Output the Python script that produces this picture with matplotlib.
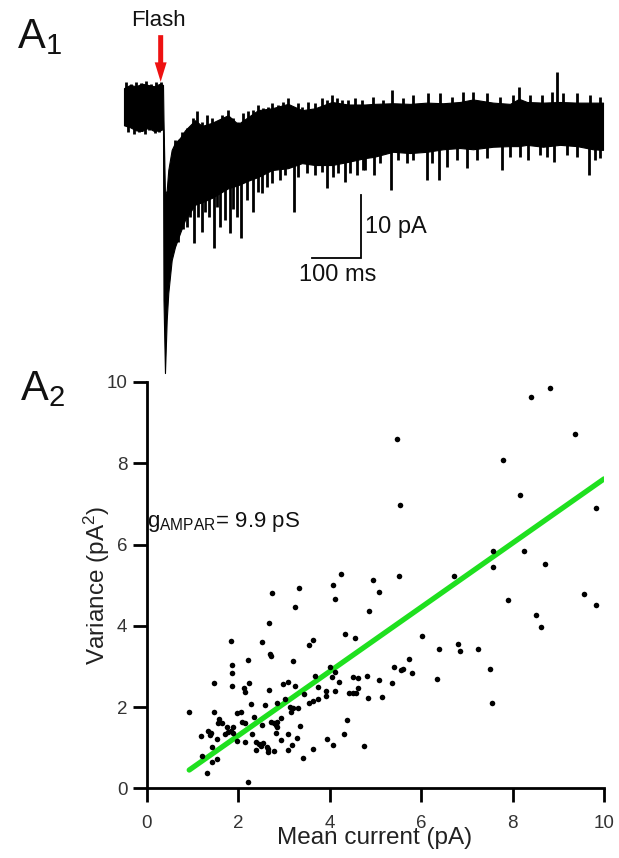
import numpy as np
import matplotlib
matplotlib.use("Agg")
from matplotlib import pyplot as plt

plt.rcParams['font.family'] = ['Liberation Sans', 'DejaVu Sans']
plt.rcParams['mathtext.fontset'] = 'custom'
plt.rcParams['mathtext.rm'] = 'Liberation Sans'
plt.rcParams['mathtext.it'] = 'Liberation Sans'
plt.rcParams['mathtext.bf'] = 'Liberation Sans'
plt.rcParams['mathtext.default'] = 'regular'

# ---- A1: whole-cell trace (time in ms, current in pA), read as an envelope
trace_t = [0, 12.2, 24.3, 36.5, 48.7, 60.8, 73.0, 79.1,
           80.1, 83.1, 86.6, 89.8, 96.7, 103.4, 113.6, 123.7, 144.0, 158.2,
           178.5, 210.9, 231.2, 251.5, 271.8, 300.1, 332.6, 361.0, 387.3,
           421.8, 454.3, 488.7, 507.0, 545.5, 580.0, 614.5, 646.9, 681.4,
           707.8, 748.3, 782.8, 801.1, 817.3, 849.7, 884.2, 918.7, 951.1, 971.4]
trace_hi = [3.0, 3.5, 3.3, 3.7, 3.5, 3.3, 3.7, 3.5,
            -2.1, -14.0, -13.2, -10.0, -6.8, -5.7, -4.9, -3.7, -2.1, -3.0,
            -2.5, -1.3, -2.7, -1.6, -0.5, -0.2, 0.5, -0.5, -0.2,
            0.8, 0.4, 0.4, 0.5, 0.6, 0.5, 0.7, 0.6, 0.8,
            1.2, 0.7, 0.5, 1.3, 0.8, 0.7, 0.8, 0.7, 0.7, 0.7]
trace_lo = [-2.9, -3.2, -3.7, -3.8, -3.3, -3.8, -3.7, -3.5,
            -30.6, -42.2, -33.8, -29.5, -24.3, -22.2, -20.0, -17.9, -15.5, -15.1,
            -14.4, -12.9, -12.4, -11.7, -11.1, -10.0, -9.7, -8.9, -9.2,
            -9.2, -8.7, -8.1, -7.9, -7.1, -7.3, -7.1, -6.7, -6.5,
            -6.7, -6.3, -6.2, -6.2, -6.0, -6.3, -6.0, -6.2, -6.7, -6.8]

# downward events (time, peak current)
spike_t = [102.1, 110.2, 120.3, 127.1, 133.8, 142.6, 150.7, 158.9, 164.3, 173.0,
           182.5, 187.9, 194.7, 204.8, 215.0, 221.7, 228.5, 237.3, 248.8, 262.3,
           272.4, 279.2, 289.4, 299.5, 316.4, 326.5, 344.8, 353.6, 370.5, 387.3,
           400.9, 411.1, 424.5, 434.6, 448.2, 458.3, 471.8, 485.3,
           488.7, 507.0, 519.2, 541.5, 556.3, 573.3, 586.7, 613.9, 624.0, 638.8,
           654.4, 674.7, 696.2, 715.3, 735.6, 766.0, 782.8, 803.1, 819.9, 843.6,
           857.2, 872.0, 897.8, 918.1, 943.6, 955.2, 965.3]
spike_min = [-22.2, -21.4, -19.3, -19.0, -17.4, -21.6, -17.4, -19.8, -16.6, -17.4,
             -22.4, -15.8, -19.0, -17.9, -20.0, -16.1, -17.4, -20.8, -14.8, -16.6,
             -13.4, -13.7, -12.7, -12.1, -11.6, -10.8, -16.6, -11.1, -10.5, -10.8,
             -10.3, -12.9, -11.1, -10.5, -11.9, -10.5, -10.8, -10.0,
             -10.0, -10.8, -8.9, -13.2, -8.4, -8.9, -8.4, -11.6, -8.9, -11.5,
             -9.5, -8.4, -9.7, -8.4, -8.1, -10.0, -7.9, -7.9, -8.4, -7.6,
             -7.9, -8.7, -7.6, -7.9, -10.8, -8.4, -8.1]

# upward excursions on the top edge (time, peak current)
up_t = [5, 15, 25, 35, 45, 55, 65, 75,
        103.4, 117.0, 127.1, 140.6, 147.4, 157.5, 167.7, 177.9, 187.9, 198.1,
        211.6, 221.7, 231.9, 242.0, 252.1, 262.3, 272.4, 282.5, 292.6, 299.5,
        312.9, 323.1, 333.2, 343.3, 353.5, 360.4, 373.8, 387.3, 400.9, 411.1,
        421.2, 431.4, 441.5, 455.0, 468.5, 482.0,
        505.6, 525.9, 542.9, 566.4, 586.7, 617.1, 640.8, 664.6, 688.1, 708.4,
        735.6, 762.5, 789.5, 801.7, 823.4, 847.1, 867.4, 877.5, 890.9, 918.1,
        945.0, 965.3]
up_max = [3.9, 3.6, 4.0, 3.8, 4.1, 3.7, 3.9, 4.0,
          -5.2, -3.9, -3.4, -1.8, -0.7, -2.3, -1.3, -1.8, -2.6, -1.3,
          -0.5, -1.8, -2.3, -1.0, -0.7, -0.5, 0.3, -0.2, 0.05, 0.6,
          0.3, 0.8, 1.4, 0.05, 0.6, 0.05, 0.8, 0.6, 1.4, 1.1,
          1.9, 1.4, 1.1, 1.1, 1.4, 1.1,
          1.6, 1.1, 2.7, 1.4, 1.9, 2.2, 2.2, 1.6, 2.4, 2.4,
          2.2, 1.6, 1.9, 3.2, 1.9, 1.9, 2.4, 5.6, 2.2, 2.2,
          1.9, 1.6]
# small dips on the bottom of the pre-flash baseline
base_dip_t = [8, 20, 30, 42, 50, 62, 70]
base_dip_min = [-4.0, -4.3, -4.0, -4.2, -3.7, -4.1, -3.9]

flash_t = 74.4
scale_ms = 100
scale_pA = 10

# ---- A2: variance vs mean current
mean_current = [
    2.73, 3.33, 4.07, 4.12, 3.24, 2.68, 4.34, 4.55, 1.85, 2.53, 3.64, 3.56,
    2.71, 2.70, 2.22, 3.21, 1.87, 1.87, 4.01, 4.11, 4.52, 4.61, 1.47, 1.87,
    2.13, 2.15, 2.24, 2.68, 2.97, 3.10, 3.25, 3.67, 3.75, 3.91, 3.92, 4.12,
    4.21, 4.43, 4.52, 4.61, 3.45, 3.75, 3.64, 3.56, 3.03, 2.84, 2.59, 2.29,
    3.13, 3.21, 3.31, 3.16, 0.93, 1.48, 1.97, 2.06, 1.59, 1.64, 1.56, 1.75,
    1.89, 2.09, 2.15, 2.35, 2.94, 2.72, 2.78, 2.82, 2.86, 2.53, 2.85, 3.35,
    1.18, 1.35, 1.38, 1.40, 1.53, 1.71, 1.78, 1.89, 1.98, 2.30, 2.16, 2.40,
    2.46, 2.54, 2.38, 2.50, 2.62, 2.66, 2.65, 2.79, 2.94, 3.10, 3.10, 3.18,
    3.29, 3.42, 3.64, 3.94, 4.08, 4.32, 4.39, 1.43, 1.20, 1.43, 1.53, 1.31,
    2.22, 2.83, 1.84,
    4.25, 4.94, 5.51, 6.73, 5.07, 4.86, 6.01, 6.40, 6.81, 6.85, 5.74, 5.40,
    5.55, 5.61, 5.80, 6.35, 4.05, 4.81, 5.09, 5.36, 4.58, 4.84, 5.15, 4.76,
    8.83, 8.40, 9.36, 7.80, 8.17, 9.82, 7.58, 8.24, 7.58, 8.70, 7.91, 9.56,
    9.83, 8.51, 8.62, 7.25, 7.51, 7.56, 5.47, 5.54]
variance = [
    4.80, 4.94, 5.00, 4.66, 4.45, 4.06, 3.79, 3.71, 3.63, 3.61, 3.65, 3.53,
    3.25, 3.30, 3.16, 3.13, 3.03, 2.83, 2.98, 2.87, 2.75, 2.72, 2.58, 2.52,
    2.48, 2.38, 2.58, 2.42, 2.57, 2.61, 2.52, 2.76, 2.50, 2.27, 2.39, 2.40,
    2.62, 2.34, 2.34, 2.46, 2.32, 2.20, 2.16, 2.11, 2.20, 2.11, 2.05, 2.07,
    2.01, 1.97, 1.98, 1.88, 1.87, 1.87, 1.86, 1.88, 1.70, 1.60, 1.60, 1.52,
    1.52, 1.64, 1.60, 1.76, 1.72, 1.64, 1.60, 1.55, 1.63, 1.56, 1.50, 1.54,
    1.29, 1.42, 1.30, 1.35, 1.21, 1.33, 1.38, 1.35, 1.16, 1.34, 1.13, 1.15,
    1.08, 1.11, 0.94, 1.05, 1.02, 0.96, 0.90, 0.92, 1.19, 1.33, 0.94, 1.07,
    1.23, 0.75, 0.97, 1.21, 1.07, 1.34, 1.68, 1.01, 0.80, 0.65, 0.71, 0.38,
    0.16, 1.35, 1.42,
    5.27, 5.12, 5.23, 5.22, 4.82, 4.37, 3.74, 3.43, 3.56, 3.39, 3.19, 2.99,
    2.91, 2.93, 2.84, 2.68, 2.75, 2.76, 2.66, 2.60, 2.35, 2.23, 2.24, 1.03,
    9.86, 9.63, 8.71, 8.08, 7.23, 6.89, 5.85, 5.84, 5.44, 5.52, 4.64, 4.79,
    4.51, 4.26, 3.96, 3.43, 2.93, 2.09, 8.59, 6.97]

fit_slope = 0.79
fit_intercept = -0.285
fit_range = [0.93, 10.0]
ticks = [0, 2, 4, 6, 8, 10]

W, H = 619, 858
fig = plt.figure(figsize=(W / 100, H / 100), dpi=100)


def px_axes(l, t, r, b):
    return fig.add_axes([l / W, 1 - b / H, (r - l) / W, (b - t) / H])


# ---------------- trace panel
ax1 = px_axes(120, 60, 610, 380)
ax1.set_xlim(-8.1, 985.6)
ax1.set_ylim(-43.3, 7.46)
ax1.axis('off')

ax1.fill_between(trace_t, trace_lo, trace_hi, color='black', lw=0.8)
base = np.interp(spike_t, trace_t, trace_lo) + 1.5
ax1.vlines(spike_t, base, spike_min, color='black', lw=2.0)
top = np.interp(up_t, trace_t, trace_hi) - 1.5
ax1.vlines(up_t, top, up_max, color='black', lw=2.0)
dip_base = np.interp(base_dip_t, trace_t, trace_lo) + 1
ax1.vlines(base_dip_t, dip_base, base_dip_min, color='black', lw=2.0)

# scale bar
bx, by = 480.6, -24.0
ax1.plot([bx - scale_ms, bx, bx], [by, by, by + scale_pA], color='black', lw=1.3,
         solid_joinstyle='miter')
ax1.text(bx + 8, by + scale_pA / 2, '%d pA' % scale_pA, fontsize=17,
         ha='left', va='center', color='#111111')
ax1.text(bx - 47, by - 2.7, '%d ms' % scale_ms, fontsize=17,
         ha='center', va='center', color='#111111')

# flash marker
ax1.annotate('', xy=(flash_t, 4.0), xytext=(flash_t, 11.4),
             arrowprops=dict(width=3.6, headwidth=8.6, headlength=14, shrink=0,
                             color='#ee1111', lw=0),
             annotation_clip=False)
ax1.text(flash_t - 4.8, 13.7, 'Flash', fontsize=16, ha='center', va='center',
         color='#111111')

# ---------------- scatter panel
ax2 = px_axes(146.7, 382, 604, 788.3)
ax2.scatter(mean_current, variance, s=16, color='black', lw=0, zorder=3)
fx = np.array(fit_range)
ax2.plot(fx, fit_slope * fx + fit_intercept, color='#1fe01f', lw=3.8,
         solid_capstyle='round', zorder=2)

ax2.set_xlim(0, 10)
ax2.set_ylim(0, 10)
ax2.set_xticks(ticks)
ax2.set_yticks(ticks)
for s in ['top', 'right']:
    ax2.spines[s].set_visible(False)
for s in ['left', 'bottom']:
    ax2.spines[s].set_linewidth(2)
ax2.tick_params(axis='both', direction='out', length=10, width=2,
                labelsize=13.5, labelcolor='#333333')
ax2.tick_params(axis='x', pad=9)
ax2.tick_params(axis='y', pad=4)
ax2.patch.set_alpha(0)

# the axis title sits over the tick labels, as in the original figure
ax2.set_xlabel('Mean current (pA)', fontsize=17.5, color='#222222')
ax2.xaxis.set_label_coords(0.4992, -0.1223)
ax2.xaxis.label.set_va('center')
ax2.set_ylabel('Variance (pA$^2$)', fontsize=17.5, color='#222222')
ax2.yaxis.set_label_coords(-0.1087, 0.5)
ax2.yaxis.label.set_va('center')

ax2.text(0.0, 6.44, r'g$_{AMPAR}$= 9.9 pS', fontsize=16, ha='left',
         va='baseline', color='#111111')

# panel labels
fig.text(17 / W, 1 - 48 / H, 'A$_1$', fontsize=30, ha='left', va='baseline',
         color='#111111')
fig.text(20 / W, 1 - 400 / H, 'A$_2$', fontsize=30, ha='left', va='baseline',
         color='#111111')

fig.savefig('out.png', dpi=100)
